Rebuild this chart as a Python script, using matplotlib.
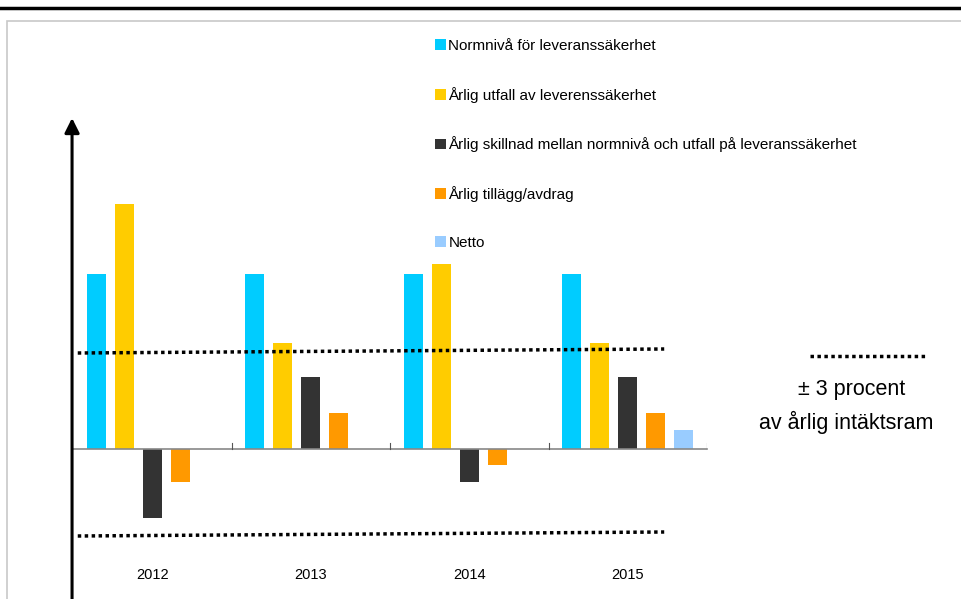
import matplotlib.pyplot as plt
import numpy as np
from matplotlib.lines import Line2D
from matplotlib.patches import Rectangle

plt.rcParams['font.family'] = ['Liberation Sans', 'DejaVu Sans']

# data (arbitrary units)
years = ['2012', '2013', '2014', '2015']
normniva = [175, 175, 175, 175]
utfall = [245, 106, 185, 106]
skillnad = [-69, 72, -33, 72]
tillagg = [-33, 36, -16, 36]
netto = [0, 0, 0, 19]
series_labels = ['Normnivå för leveranssäkerhet',
                 'Årlig utfall av leverenssäkerhet',
                 'Årlig skillnad mellan normnivå och utfall på leveranssäkerhet',
                 'Årlig tillägg/avdrag',
                 'Netto']
colors = ['#00CCFF', '#FFCC00', '#333333', '#FF9900', '#99CCFF']
# +/- 3 procent band (start, end)
upper_band = [96, 100]
lower_band = [-87, -83]

W, H = 962, 599
fig = plt.figure(figsize=(W / 100, H / 100), dpi=100)


def fx(px):
    return px / W


def fy(py):
    return 1 - py / H


# page decoration: top rule and grey frame
fig.add_artist(Line2D([0, 1], [fy(8), fy(8)], color='black', lw=2.5))
fig.add_artist(Rectangle((fx(7), -0.05), 1.0, fy(21) + 0.05, fill=False,
                         edgecolor='#C8C8C8', lw=1.2))

ax = fig.add_axes([fx(73), 0, fx(707) - fx(73), fy(118)])
ax.set_xlim(-0.5, 3.5)
ax.set_ylim(-150, 331)
ax.axis('off')

x = np.arange(len(years))
step = 0.176
width = 0.12
all_series = [normniva, utfall, skillnad, tillagg, netto]
handles = []
for i, (vals, c, lab) in enumerate(zip(all_series, colors, series_labels)):
    b = ax.bar(x + (i - 2) * step, vals, width, color=c, label=lab, zorder=2)
    handles.append(b)

# zero line with category ticks
ax.plot([-0.506, 3.5], [0, 0], color='#888888', lw=1.2, zorder=3, clip_on=False)
for t in np.arange(0.5, 4.0, 1.0):
    ax.plot([t, t], [0, 6], color='#555555', lw=0.8, zorder=3)

# y axis arrow
ax.annotate('', xy=(-0.506, 331), xytext=(-0.506, -150),
            arrowprops=dict(arrowstyle='-|>', color='black', lw=2.2,
                            mutation_scale=22, shrinkA=0, shrinkB=0),
            annotation_clip=False)

# dotted band lines
ax.plot([-0.47, 3.23], upper_band, color='black', lw=2.5,
        linestyle=(0, (1, 1)), dash_capstyle='butt', zorder=4)
ax.plot([-0.47, 3.23], lower_band, color='black', lw=2.5,
        linestyle=(0, (1, 1)), dash_capstyle='butt', zorder=4)

for i, yr in enumerate(years):
    ax.text(i, -126, yr, ha='center', va='center', fontsize=10.5)

# legend
fig.legend(handles=handles, labels=series_labels, loc='upper left',
           bbox_to_anchor=(fx(429), fy(33)), frameon=False, fontsize=11,
           handlelength=0.72, handleheight=0.72, handletextpad=0.15,
           labelspacing=2.2, borderaxespad=0)

# band explanation at the right
fig.add_artist(Line2D([fx(810), fx(925)], [fy(356), fy(356)], color='black',
                      lw=2.5, linestyle=(0, (1, 1)), dash_capstyle='butt'))
fig.text(fx(852), fy(389), '± 3 procent', ha='center', va='center', fontsize=15.5)
fig.text(fx(846), fy(422), 'av årlig intäktsram', ha='center', va='center', fontsize=15.5)

fig.savefig('out.png', dpi=100)
